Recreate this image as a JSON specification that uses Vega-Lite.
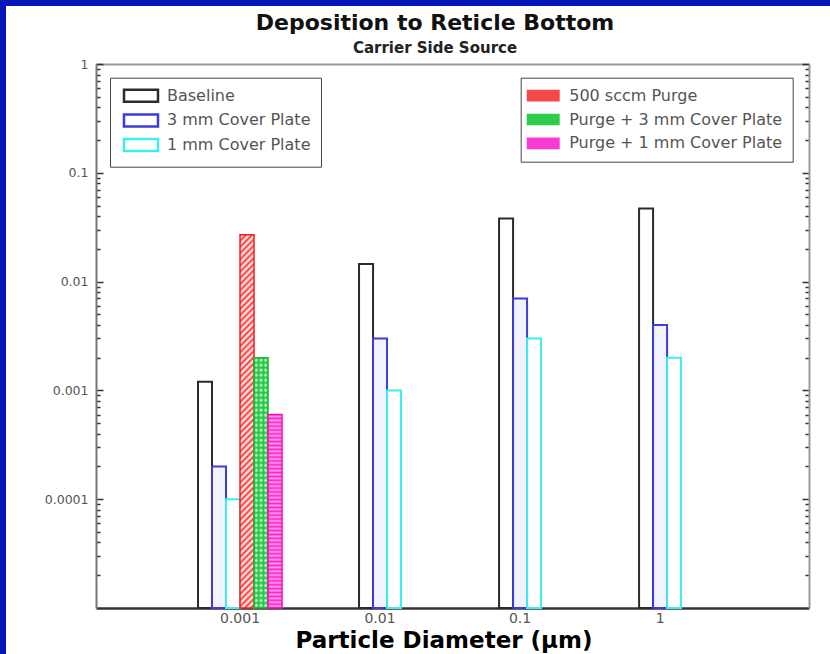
{
"$schema": "https://vega.github.io/schema/vega-lite/v6.json",
"width": 824, "height": 648,
"padding": {"left": 6, "top": 6, "right": 0, "bottom": 0},
"autosize": {"type": "none"},
"background": "#0616b8",
"config": {"view": {"fill": "white", "stroke": null}, "font": "DejaVu Sans"},
"title": {"text": "Deposition to Reticle Bottom", "subtitle": "Carrier Side Source", "font": "DejaVu Sans", "fontSize": 22, "fontWeight": "bold", "color": "#111", "subtitleFont": "DejaVu Sans", "subtitleFontSize": 15, "subtitleFontWeight": "bold", "subtitleColor": "#222", "subtitlePadding": 6, "anchor": "middle", "frame": "group", "offset": -51, "dx": 17},
"datasets": {"bars": [
{"size":"0.001","series":"Baseline","value":0.0012},
{"size":"0.001","series":"3 mm Cover Plate","value":0.0002},
{"size":"0.001","series":"1 mm Cover Plate","value":0.0001},
{"size":"0.001","series":"500 sccm Purge","value":0.027},
{"size":"0.001","series":"Purge + 3 mm Cover Plate","value":0.002},
{"size":"0.001","series":"Purge + 1 mm Cover Plate","value":0.0006},
{"size":"0.01","series":"Baseline","value":0.0145},
{"size":"0.01","series":"3 mm Cover Plate","value":0.003},
{"size":"0.01","series":"1 mm Cover Plate","value":0.001},
{"size":"0.1","series":"Baseline","value":0.038},
{"size":"0.1","series":"3 mm Cover Plate","value":0.007},
{"size":"0.1","series":"1 mm Cover Plate","value":0.003},
{"size":"1","series":"Baseline","value":0.047},
{"size":"1","series":"3 mm Cover Plate","value":0.004},
{"size":"1","series":"1 mm Cover Plate","value":0.002}
]},
"resolve": {"scale": {"xOffset": "independent"}},
"layer": [
{
"data": {"name": "bars"},
"transform": [{"filter": "datum.size === '0.001' && indexof(['Baseline','3 mm Cover Plate','1 mm Cover Plate'], datum.series) >= 0"}],
"mark": {"type": "bar", "strokeWidth": 2},
"encoding": {
"x": {"field": "size", "type": "nominal", "scale": {"domain": ["0.001","0.01","0.1","1"], "range": [90, 803], "paddingInner": 0, "paddingOuter": 0.546, "align": 0.484},
 "axis": {"orient": "bottom", "offset": -46, "title": "Particle Diameter (μm)", "titleFont": "DejaVu Sans", "titleFontSize": 23, "titleFontWeight": "bold", "titleColor": "#000", "titlePadding": 4, "titleX": 437.5, "labelFont": "DejaVu Sans", "labelFontSize": 14, "labelColor": "#555", "labelPadding": 3, "labelAngle": 0, "ticks": false, "domainColor": "#333", "domainWidth": 2.5}},
"y": {"field": "value", "type": "quantitative", "scale": {"type": "log", "domain": [0.00001, 1], "range": [602, 58]},
 "axis": {"orient": "left", "offset": -90, "title": null, "grid": false,
  "values": [0.00002,0.00003,0.00004,0.00005,0.00006,0.00007,0.00008,0.00009,0.0001,0.0002,0.0003,0.0004,0.0005,0.0006,0.0007,0.0008,0.0009,0.001,0.002,0.003,0.004,0.005,0.006,0.007,0.008,0.009,0.01,0.02,0.03,0.04,0.05,0.06,0.07,0.08,0.09,0.1,0.2,0.3,0.4,0.5,0.6,0.7,0.8,0.9,1],
  "labelExpr": "indexof([0.0001,0.001,0.01,0.1,1], datum.value) >= 0 ? format(datum.value, '~g') : ''",
  "tickSize": {"condition": {"test": "indexof([0.0001,0.001,0.01,0.1,1], datum.value) >= 0", "value": -7}, "value": -4},
  "tickColor": "#333", "tickWidth": 1.5, "labelPadding": 15, "labelFont": "DejaVu Sans", "labelFontSize": 12.5, "labelColor": "#555", "domainColor": "#777", "domainWidth": 2, "labelOverlap": false, "labelFlush": false, "labelBound": false}},
"y2": {"datum": 0.00001},
"xOffset": {"field": "series", "type": "nominal", "scale": {"domain": ["_a","_b","Baseline","3 mm Cover Plate","1 mm Cover Plate","500 sccm Purge","Purge + 3 mm Cover Plate","Purge + 1 mm Cover Plate","_c","_d"], "paddingInner": 0, "paddingOuter": 0}},
"stroke": {"field": "series", "type": "nominal", "scale": {"domain": ["Baseline","3 mm Cover Plate","1 mm Cover Plate"], "range": ["#2b2b2b","#3c3cd8","#3ceeee"]},
 "legend": {"title": null, "orient": "none", "legendX": 104, "legendY": 71.7, "padding": 10, "strokeColor": "#444", "fillColor": "white", "symbolType": "M-2.615,-0.923H2.615V0.923H-2.615Z", "symbolSize": 169, "symbolOffset": 13, "labelOffset": 18, "rowPadding": 2.7, "labelFont": "DejaVu Sans", "labelFontSize": 16, "labelColor": "#555", "labelLimit": 400, "symbolStrokeWidth": 2.5, "symbolFillColor": "white"}},
"fill": {"condition": {"test": "datum.series === '3 mm Cover Plate'", "value": "#f3f3ff"}, "value": "#ffffff"}
}
},
{
"data": {"name": "bars"},
"transform": [{"filter": "datum.size !== '0.001'"}],
"mark": {"type": "bar", "strokeWidth": 2},
"encoding": {
"x": {"field": "size", "type": "nominal", "scale": {"domain": ["0.001","0.01","0.1","1"], "range": [90, 803], "paddingInner": 0, "paddingOuter": 0.546, "align": 0.484},
 "axis": {"orient": "top", "offset": -58, "title": null, "labels": false, "ticks": false, "domainColor": "#999", "domainWidth": 2}},
"y": {"field": "value", "type": "quantitative", "scale": {"type": "log", "domain": [0.00001, 1], "range": [602, 58]},
 "axis": {"orient": "right", "offset": -21, "title": null, "grid": false, "labels": false,
  "values": [0.00002,0.00003,0.00004,0.00005,0.00006,0.00007,0.00008,0.00009,0.0001,0.0002,0.0003,0.0004,0.0005,0.0006,0.0007,0.0008,0.0009,0.001,0.002,0.003,0.004,0.005,0.006,0.007,0.008,0.009,0.01,0.02,0.03,0.04,0.05,0.06,0.07,0.08,0.09,0.1,0.2,0.3,0.4,0.5,0.6,0.7,0.8,0.9,1],
  "tickSize": {"condition": {"test": "indexof([0.0001,0.001,0.01,0.1,1], datum.value) >= 0", "value": -7}, "value": -4},
  "tickColor": "#333", "tickWidth": 1.5, "domainColor": "#999", "domainWidth": 2}},
"y2": {"datum": 0.00001},
"xOffset": {"field": "series", "type": "nominal", "scale": {"domain": ["_a","_b","_c","Baseline","3 mm Cover Plate","1 mm Cover Plate","_d","_e","_f"], "paddingInner": 0, "paddingOuter": 0.5}},
"stroke": {"field": "series", "type": "nominal", "scale": {"domain": ["Baseline","3 mm Cover Plate","1 mm Cover Plate"], "range": ["#2b2b2b","#3c3cd8","#3ceeee"]},
 "legend": {"title": null, "orient": "none", "legendX": 104, "legendY": 71.7, "padding": 10, "strokeColor": "#444", "fillColor": "white", "symbolType": "M-2.615,-0.923H2.615V0.923H-2.615Z", "symbolSize": 169, "symbolOffset": 13, "labelOffset": 18, "rowPadding": 2.7, "labelFont": "DejaVu Sans", "labelFontSize": 16, "labelColor": "#555", "labelLimit": 400, "symbolStrokeWidth": 2.5, "symbolFillColor": "white"}},
"fill": {"condition": {"test": "datum.series === '3 mm Cover Plate'", "value": "#f3f3ff"}, "value": "#ffffff"}
}
},
{
"data": {"name": "bars"},
"transform": [{"filter": "indexof(['500 sccm Purge','Purge + 3 mm Cover Plate','Purge + 1 mm Cover Plate'], datum.series) >= 0"}],
"mark": {"type": "bar", "strokeWidth": 0},
"encoding": {
"x": {"field": "size", "type": "nominal", "scale": {"domain": ["0.001","0.01","0.1","1"], "range": [90, 803], "paddingInner": 0, "paddingOuter": 0.546, "align": 0.484}, "axis": null},
"y": {"field": "value", "type": "quantitative", "scale": {"type": "log", "domain": [0.00001, 1], "range": [602, 58]}, "axis": null},
"y2": {"datum": 0.00001},
"xOffset": {"field": "series", "type": "nominal", "scale": {"domain": ["_a","_b","Baseline","3 mm Cover Plate","1 mm Cover Plate","500 sccm Purge","Purge + 3 mm Cover Plate","Purge + 1 mm Cover Plate","_c","_d"], "paddingInner": 0, "paddingOuter": 0}},
"fill": {"field": "series", "type": "nominal", "scale": {"domain": ["500 sccm Purge","Purge + 3 mm Cover Plate","Purge + 1 mm Cover Plate"], "range": ["#f54848","#2ccc4c","#fb3ad2"]},
 "legend": {"title": null, "orient": "none", "legendX": 514.7, "legendY": 71.7, "padding": 10, "strokeColor": "#444", "fillColor": "white", "symbolType": "M-2.538,-0.9H2.538V0.9H-2.538Z", "symbolSize": 169, "symbolOffset": 4.5, "labelOffset": 18, "rowPadding": 7.8, "labelFont": "DejaVu Sans", "labelFontSize": 16, "labelColor": "#555", "labelLimit": 400, "symbolStrokeWidth": 2}}
}
},
{
"data": {"name": "bars"},
"transform": [{"filter": "datum.series === '500 sccm Purge'"}],
"mark": {"type": "bar", "stroke": "#ee2222", "strokeWidth": 1.5, "fill": {"gradient": "linear", "x1": 0, "y1": 0, "x2": 0.0389, "y2": 1.036, "stops": [{"offset":0,"color":"#f33"},{"offset":0.008,"color":"#fff"},{"offset":0.016,"color":"#f33"},{"offset":0.024,"color":"#fff"},{"offset":0.032,"color":"#f33"},{"offset":0.04,"color":"#fff"},{"offset":0.048,"color":"#f33"},{"offset":0.056,"color":"#fff"},{"offset":0.064,"color":"#f33"},{"offset":0.072,"color":"#fff"},{"offset":0.08,"color":"#f33"},{"offset":0.088,"color":"#fff"},{"offset":0.096,"color":"#f33"},{"offset":0.104,"color":"#fff"},{"offset":0.112,"color":"#f33"},{"offset":0.12,"color":"#fff"},{"offset":0.128,"color":"#f33"},{"offset":0.136,"color":"#fff"},{"offset":0.144,"color":"#f33"},{"offset":0.152,"color":"#fff"},{"offset":0.16,"color":"#f33"},{"offset":0.168,"color":"#fff"},{"offset":0.176,"color":"#f33"},{"offset":0.184,"color":"#fff"},{"offset":0.192,"color":"#f33"},{"offset":0.2,"color":"#fff"},{"offset":0.208,"color":"#f33"},{"offset":0.216,"color":"#fff"},{"offset":0.224,"color":"#f33"},{"offset":0.232,"color":"#fff"},{"offset":0.24,"color":"#f33"},{"offset":0.248,"color":"#fff"},{"offset":0.256,"color":"#f33"},{"offset":0.264,"color":"#fff"},{"offset":0.272,"color":"#f33"},{"offset":0.28,"color":"#fff"},{"offset":0.288,"color":"#f33"},{"offset":0.296,"color":"#fff"},{"offset":0.304,"color":"#f33"},{"offset":0.312,"color":"#fff"},{"offset":0.32,"color":"#f33"},{"offset":0.328,"color":"#fff"},{"offset":0.336,"color":"#f33"},{"offset":0.344,"color":"#fff"},{"offset":0.352,"color":"#f33"},{"offset":0.36,"color":"#fff"},{"offset":0.368,"color":"#f33"},{"offset":0.376,"color":"#fff"},{"offset":0.384,"color":"#f33"},{"offset":0.392,"color":"#fff"},{"offset":0.4,"color":"#f33"},{"offset":0.408,"color":"#fff"},{"offset":0.416,"color":"#f33"},{"offset":0.424,"color":"#fff"},{"offset":0.432,"color":"#f33"},{"offset":0.44,"color":"#fff"},{"offset":0.448,"color":"#f33"},{"offset":0.456,"color":"#fff"},{"offset":0.464,"color":"#f33"},{"offset":0.472,"color":"#fff"},{"offset":0.48,"color":"#f33"},{"offset":0.488,"color":"#fff"},{"offset":0.496,"color":"#f33"},{"offset":0.504,"color":"#fff"},{"offset":0.512,"color":"#f33"},{"offset":0.52,"color":"#fff"},{"offset":0.528,"color":"#f33"},{"offset":0.536,"color":"#fff"},{"offset":0.544,"color":"#f33"},{"offset":0.552,"color":"#fff"},{"offset":0.56,"color":"#f33"},{"offset":0.568,"color":"#fff"},{"offset":0.576,"color":"#f33"},{"offset":0.584,"color":"#fff"},{"offset":0.592,"color":"#f33"},{"offset":0.6,"color":"#fff"},{"offset":0.608,"color":"#f33"},{"offset":0.616,"color":"#fff"},{"offset":0.624,"color":"#f33"},{"offset":0.632,"color":"#fff"},{"offset":0.64,"color":"#f33"},{"offset":0.648,"color":"#fff"},{"offset":0.656,"color":"#f33"},{"offset":0.664,"color":"#fff"},{"offset":0.672,"color":"#f33"},{"offset":0.68,"color":"#fff"},{"offset":0.688,"color":"#f33"},{"offset":0.696,"color":"#fff"},{"offset":0.704,"color":"#f33"},{"offset":0.712,"color":"#fff"},{"offset":0.72,"color":"#f33"},{"offset":0.728,"color":"#fff"},{"offset":0.736,"color":"#f33"},{"offset":0.744,"color":"#fff"},{"offset":0.752,"color":"#f33"},{"offset":0.76,"color":"#fff"},{"offset":0.768,"color":"#f33"},{"offset":0.776,"color":"#fff"},{"offset":0.784,"color":"#f33"},{"offset":0.792,"color":"#fff"},{"offset":0.8,"color":"#f33"},{"offset":0.808,"color":"#fff"},{"offset":0.816,"color":"#f33"},{"offset":0.824,"color":"#fff"},{"offset":0.832,"color":"#f33"},{"offset":0.84,"color":"#fff"},{"offset":0.848,"color":"#f33"},{"offset":0.856,"color":"#fff"},{"offset":0.864,"color":"#f33"},{"offset":0.872,"color":"#fff"},{"offset":0.88,"color":"#f33"},{"offset":0.888,"color":"#fff"},{"offset":0.896,"color":"#f33"},{"offset":0.904,"color":"#fff"},{"offset":0.912,"color":"#f33"},{"offset":0.92,"color":"#fff"},{"offset":0.928,"color":"#f33"},{"offset":0.936,"color":"#fff"},{"offset":0.944,"color":"#f33"},{"offset":0.952,"color":"#fff"},{"offset":0.96,"color":"#f33"},{"offset":0.968,"color":"#fff"},{"offset":0.976,"color":"#f33"},{"offset":0.984,"color":"#fff"},{"offset":0.992,"color":"#f33"},{"offset":1,"color":"#fff"}]}},
"encoding": {
"x": {"field": "size", "type": "nominal", "scale": {"domain": ["0.001","0.01","0.1","1"], "range": [90, 803], "paddingInner": 0, "paddingOuter": 0.546, "align": 0.484}, "axis": null},
"y": {"field": "value", "type": "quantitative", "scale": {"type": "log", "domain": [0.00001, 1], "range": [602, 58]}, "axis": null},
"y2": {"datum": 0.00001},
"xOffset": {"field": "series", "type": "nominal", "scale": {"domain": ["_a","_b","Baseline","3 mm Cover Plate","1 mm Cover Plate","500 sccm Purge","Purge + 3 mm Cover Plate","Purge + 1 mm Cover Plate","_c","_d"], "paddingInner": 0, "paddingOuter": 0}}
}
},
{
"data": {"name": "bars"},
"transform": [{"filter": "datum.series === 'Purge + 3 mm Cover Plate'"}],
"mark": {"type": "bar", "strokeWidth": 0, "fill": {"gradient": "linear", "x1": 0, "y1": 0, "x2": 1, "y2": 0, "stops": [{"offset":0,"color":"#1ec83c"},{"offset":0.1667,"color":"#ffffff"},{"offset":0.3333,"color":"#1ec83c"},{"offset":0.5,"color":"#ffffff"},{"offset":0.6667,"color":"#1ec83c"},{"offset":0.8333,"color":"#ffffff"},{"offset":1,"color":"#1ec83c"}]}},
"encoding": {
"x": {"field": "size", "type": "nominal", "scale": {"domain": ["0.001","0.01","0.1","1"], "range": [90, 803], "paddingInner": 0, "paddingOuter": 0.546, "align": 0.484}, "axis": null},
"y": {"field": "value", "type": "quantitative", "scale": {"type": "log", "domain": [0.00001, 1], "range": [602, 58]}, "axis": null},
"y2": {"datum": 0.00001},
"xOffset": {"field": "series", "type": "nominal", "scale": {"domain": ["_a","_b","Baseline","3 mm Cover Plate","1 mm Cover Plate","500 sccm Purge","Purge + 3 mm Cover Plate","Purge + 1 mm Cover Plate","_c","_d"], "paddingInner": 0, "paddingOuter": 0}}
}
},
{
"data": {"name": "bars"},
"transform": [{"filter": "datum.series === 'Purge + 3 mm Cover Plate'"}],
"mark": {"type": "bar", "stroke": "#11bb33", "strokeWidth": 1.5, "fill": {"gradient": "linear", "x1": 0, "y1": 0, "x2": 0, "y2": 1, "stops": [{"offset":0,"color":"rgba(30,200,60,1)"},{"offset":0.01,"color":"rgba(30,200,60,0)"},{"offset":0.02,"color":"rgba(30,200,60,1)"},{"offset":0.03,"color":"rgba(30,200,60,0)"},{"offset":0.04,"color":"rgba(30,200,60,1)"},{"offset":0.05,"color":"rgba(30,200,60,0)"},{"offset":0.06,"color":"rgba(30,200,60,1)"},{"offset":0.07,"color":"rgba(30,200,60,0)"},{"offset":0.08,"color":"rgba(30,200,60,1)"},{"offset":0.09,"color":"rgba(30,200,60,0)"},{"offset":0.1,"color":"rgba(30,200,60,1)"},{"offset":0.11,"color":"rgba(30,200,60,0)"},{"offset":0.12,"color":"rgba(30,200,60,1)"},{"offset":0.13,"color":"rgba(30,200,60,0)"},{"offset":0.14,"color":"rgba(30,200,60,1)"},{"offset":0.15,"color":"rgba(30,200,60,0)"},{"offset":0.16,"color":"rgba(30,200,60,1)"},{"offset":0.17,"color":"rgba(30,200,60,0)"},{"offset":0.18,"color":"rgba(30,200,60,1)"},{"offset":0.19,"color":"rgba(30,200,60,0)"},{"offset":0.2,"color":"rgba(30,200,60,1)"},{"offset":0.21,"color":"rgba(30,200,60,0)"},{"offset":0.22,"color":"rgba(30,200,60,1)"},{"offset":0.23,"color":"rgba(30,200,60,0)"},{"offset":0.24,"color":"rgba(30,200,60,1)"},{"offset":0.25,"color":"rgba(30,200,60,0)"},{"offset":0.26,"color":"rgba(30,200,60,1)"},{"offset":0.27,"color":"rgba(30,200,60,0)"},{"offset":0.28,"color":"rgba(30,200,60,1)"},{"offset":0.29,"color":"rgba(30,200,60,0)"},{"offset":0.3,"color":"rgba(30,200,60,1)"},{"offset":0.31,"color":"rgba(30,200,60,0)"},{"offset":0.32,"color":"rgba(30,200,60,1)"},{"offset":0.33,"color":"rgba(30,200,60,0)"},{"offset":0.34,"color":"rgba(30,200,60,1)"},{"offset":0.35,"color":"rgba(30,200,60,0)"},{"offset":0.36,"color":"rgba(30,200,60,1)"},{"offset":0.37,"color":"rgba(30,200,60,0)"},{"offset":0.38,"color":"rgba(30,200,60,1)"},{"offset":0.39,"color":"rgba(30,200,60,0)"},{"offset":0.4,"color":"rgba(30,200,60,1)"},{"offset":0.41,"color":"rgba(30,200,60,0)"},{"offset":0.42,"color":"rgba(30,200,60,1)"},{"offset":0.43,"color":"rgba(30,200,60,0)"},{"offset":0.44,"color":"rgba(30,200,60,1)"},{"offset":0.45,"color":"rgba(30,200,60,0)"},{"offset":0.46,"color":"rgba(30,200,60,1)"},{"offset":0.47,"color":"rgba(30,200,60,0)"},{"offset":0.48,"color":"rgba(30,200,60,1)"},{"offset":0.49,"color":"rgba(30,200,60,0)"},{"offset":0.5,"color":"rgba(30,200,60,1)"},{"offset":0.51,"color":"rgba(30,200,60,0)"},{"offset":0.52,"color":"rgba(30,200,60,1)"},{"offset":0.53,"color":"rgba(30,200,60,0)"},{"offset":0.54,"color":"rgba(30,200,60,1)"},{"offset":0.55,"color":"rgba(30,200,60,0)"},{"offset":0.56,"color":"rgba(30,200,60,1)"},{"offset":0.57,"color":"rgba(30,200,60,0)"},{"offset":0.58,"color":"rgba(30,200,60,1)"},{"offset":0.59,"color":"rgba(30,200,60,0)"},{"offset":0.6,"color":"rgba(30,200,60,1)"},{"offset":0.61,"color":"rgba(30,200,60,0)"},{"offset":0.62,"color":"rgba(30,200,60,1)"},{"offset":0.63,"color":"rgba(30,200,60,0)"},{"offset":0.64,"color":"rgba(30,200,60,1)"},{"offset":0.65,"color":"rgba(30,200,60,0)"},{"offset":0.66,"color":"rgba(30,200,60,1)"},{"offset":0.67,"color":"rgba(30,200,60,0)"},{"offset":0.68,"color":"rgba(30,200,60,1)"},{"offset":0.69,"color":"rgba(30,200,60,0)"},{"offset":0.7,"color":"rgba(30,200,60,1)"},{"offset":0.71,"color":"rgba(30,200,60,0)"},{"offset":0.72,"color":"rgba(30,200,60,1)"},{"offset":0.73,"color":"rgba(30,200,60,0)"},{"offset":0.74,"color":"rgba(30,200,60,1)"},{"offset":0.75,"color":"rgba(30,200,60,0)"},{"offset":0.76,"color":"rgba(30,200,60,1)"},{"offset":0.77,"color":"rgba(30,200,60,0)"},{"offset":0.78,"color":"rgba(30,200,60,1)"},{"offset":0.79,"color":"rgba(30,200,60,0)"},{"offset":0.8,"color":"rgba(30,200,60,1)"},{"offset":0.81,"color":"rgba(30,200,60,0)"},{"offset":0.82,"color":"rgba(30,200,60,1)"},{"offset":0.83,"color":"rgba(30,200,60,0)"},{"offset":0.84,"color":"rgba(30,200,60,1)"},{"offset":0.85,"color":"rgba(30,200,60,0)"},{"offset":0.86,"color":"rgba(30,200,60,1)"},{"offset":0.87,"color":"rgba(30,200,60,0)"},{"offset":0.88,"color":"rgba(30,200,60,1)"},{"offset":0.89,"color":"rgba(30,200,60,0)"},{"offset":0.9,"color":"rgba(30,200,60,1)"},{"offset":0.91,"color":"rgba(30,200,60,0)"},{"offset":0.92,"color":"rgba(30,200,60,1)"},{"offset":0.93,"color":"rgba(30,200,60,0)"},{"offset":0.94,"color":"rgba(30,200,60,1)"},{"offset":0.95,"color":"rgba(30,200,60,0)"},{"offset":0.96,"color":"rgba(30,200,60,1)"},{"offset":0.97,"color":"rgba(30,200,60,0)"},{"offset":0.98,"color":"rgba(30,200,60,1)"},{"offset":0.99,"color":"rgba(30,200,60,0)"},{"offset":1,"color":"rgba(30,200,60,1)"}]}},
"encoding": {
"x": {"field": "size", "type": "nominal", "scale": {"domain": ["0.001","0.01","0.1","1"], "range": [90, 803], "paddingInner": 0, "paddingOuter": 0.546, "align": 0.484}, "axis": null},
"y": {"field": "value", "type": "quantitative", "scale": {"type": "log", "domain": [0.00001, 1], "range": [602, 58]}, "axis": null},
"y2": {"datum": 0.00001},
"xOffset": {"field": "series", "type": "nominal", "scale": {"domain": ["_a","_b","Baseline","3 mm Cover Plate","1 mm Cover Plate","500 sccm Purge","Purge + 3 mm Cover Plate","Purge + 1 mm Cover Plate","_c","_d"], "paddingInner": 0, "paddingOuter": 0}}
}
},
{
"data": {"name": "bars"},
"transform": [{"filter": "datum.series === 'Purge + 1 mm Cover Plate'"}],
"mark": {"type": "bar", "stroke": "#ee11bb", "strokeWidth": 1.5, "fill": {"gradient": "linear", "x1": 0, "y1": 0, "x2": 0, "y2": 1, "stops": [{"offset":0,"color":"#ff22cc"},{"offset":0.01,"color":"#ffa0e8"},{"offset":0.02,"color":"#ff22cc"},{"offset":0.03,"color":"#ffa0e8"},{"offset":0.04,"color":"#ff22cc"},{"offset":0.05,"color":"#ffa0e8"},{"offset":0.06,"color":"#ff22cc"},{"offset":0.07,"color":"#ffa0e8"},{"offset":0.08,"color":"#ff22cc"},{"offset":0.09,"color":"#ffa0e8"},{"offset":0.1,"color":"#ff22cc"},{"offset":0.11,"color":"#ffa0e8"},{"offset":0.12,"color":"#ff22cc"},{"offset":0.13,"color":"#ffa0e8"},{"offset":0.14,"color":"#ff22cc"},{"offset":0.15,"color":"#ffa0e8"},{"offset":0.16,"color":"#ff22cc"},{"offset":0.17,"color":"#ffa0e8"},{"offset":0.18,"color":"#ff22cc"},{"offset":0.19,"color":"#ffa0e8"},{"offset":0.2,"color":"#ff22cc"},{"offset":0.21,"color":"#ffa0e8"},{"offset":0.22,"color":"#ff22cc"},{"offset":0.23,"color":"#ffa0e8"},{"offset":0.24,"color":"#ff22cc"},{"offset":0.25,"color":"#ffa0e8"},{"offset":0.26,"color":"#ff22cc"},{"offset":0.27,"color":"#ffa0e8"},{"offset":0.28,"color":"#ff22cc"},{"offset":0.29,"color":"#ffa0e8"},{"offset":0.3,"color":"#ff22cc"},{"offset":0.31,"color":"#ffa0e8"},{"offset":0.32,"color":"#ff22cc"},{"offset":0.33,"color":"#ffa0e8"},{"offset":0.34,"color":"#ff22cc"},{"offset":0.35,"color":"#ffa0e8"},{"offset":0.36,"color":"#ff22cc"},{"offset":0.37,"color":"#ffa0e8"},{"offset":0.38,"color":"#ff22cc"},{"offset":0.39,"color":"#ffa0e8"},{"offset":0.4,"color":"#ff22cc"},{"offset":0.41,"color":"#ffa0e8"},{"offset":0.42,"color":"#ff22cc"},{"offset":0.43,"color":"#ffa0e8"},{"offset":0.44,"color":"#ff22cc"},{"offset":0.45,"color":"#ffa0e8"},{"offset":0.46,"color":"#ff22cc"},{"offset":0.47,"color":"#ffa0e8"},{"offset":0.48,"color":"#ff22cc"},{"offset":0.49,"color":"#ffa0e8"},{"offset":0.5,"color":"#ff22cc"},{"offset":0.51,"color":"#ffa0e8"},{"offset":0.52,"color":"#ff22cc"},{"offset":0.53,"color":"#ffa0e8"},{"offset":0.54,"color":"#ff22cc"},{"offset":0.55,"color":"#ffa0e8"},{"offset":0.56,"color":"#ff22cc"},{"offset":0.57,"color":"#ffa0e8"},{"offset":0.58,"color":"#ff22cc"},{"offset":0.59,"color":"#ffa0e8"},{"offset":0.6,"color":"#ff22cc"},{"offset":0.61,"color":"#ffa0e8"},{"offset":0.62,"color":"#ff22cc"},{"offset":0.63,"color":"#ffa0e8"},{"offset":0.64,"color":"#ff22cc"},{"offset":0.65,"color":"#ffa0e8"},{"offset":0.66,"color":"#ff22cc"},{"offset":0.67,"color":"#ffa0e8"},{"offset":0.68,"color":"#ff22cc"},{"offset":0.69,"color":"#ffa0e8"},{"offset":0.7,"color":"#ff22cc"},{"offset":0.71,"color":"#ffa0e8"},{"offset":0.72,"color":"#ff22cc"},{"offset":0.73,"color":"#ffa0e8"},{"offset":0.74,"color":"#ff22cc"},{"offset":0.75,"color":"#ffa0e8"},{"offset":0.76,"color":"#ff22cc"},{"offset":0.77,"color":"#ffa0e8"},{"offset":0.78,"color":"#ff22cc"},{"offset":0.79,"color":"#ffa0e8"},{"offset":0.8,"color":"#ff22cc"},{"offset":0.81,"color":"#ffa0e8"},{"offset":0.82,"color":"#ff22cc"},{"offset":0.83,"color":"#ffa0e8"},{"offset":0.84,"color":"#ff22cc"},{"offset":0.85,"color":"#ffa0e8"},{"offset":0.86,"color":"#ff22cc"},{"offset":0.87,"color":"#ffa0e8"},{"offset":0.88,"color":"#ff22cc"},{"offset":0.89,"color":"#ffa0e8"},{"offset":0.9,"color":"#ff22cc"},{"offset":0.91,"color":"#ffa0e8"},{"offset":0.92,"color":"#ff22cc"},{"offset":0.93,"color":"#ffa0e8"},{"offset":0.94,"color":"#ff22cc"},{"offset":0.95,"color":"#ffa0e8"},{"offset":0.96,"color":"#ff22cc"},{"offset":0.97,"color":"#ffa0e8"},{"offset":0.98,"color":"#ff22cc"},{"offset":0.99,"color":"#ffa0e8"},{"offset":1,"color":"#ff22cc"}]}},
"encoding": {
"x": {"field": "size", "type": "nominal", "scale": {"domain": ["0.001","0.01","0.1","1"], "range": [90, 803], "paddingInner": 0, "paddingOuter": 0.546, "align": 0.484}, "axis": null},
"y": {"field": "value", "type": "quantitative", "scale": {"type": "log", "domain": [0.00001, 1], "range": [602, 58]}, "axis": null},
"y2": {"datum": 0.00001},
"xOffset": {"field": "series", "type": "nominal", "scale": {"domain": ["_a","_b","Baseline","3 mm Cover Plate","1 mm Cover Plate","500 sccm Purge","Purge + 3 mm Cover Plate","Purge + 1 mm Cover Plate","_c","_d"], "paddingInner": 0, "paddingOuter": 0}}
}
}
]
}
